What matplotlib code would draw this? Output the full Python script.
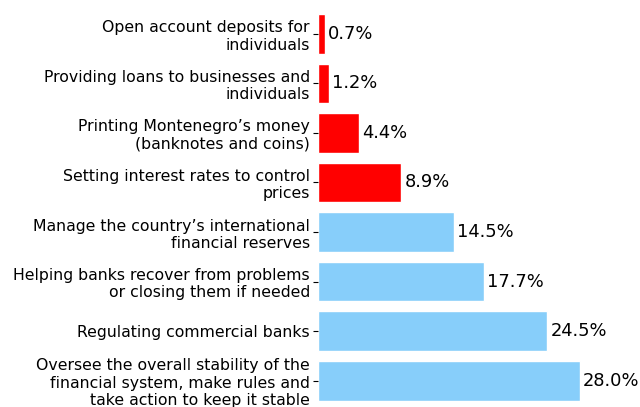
import matplotlib
matplotlib.use("Agg")
import matplotlib.pyplot as plt

categories = [
    "Oversee the overall stability of the\nfinancial system, make rules and\ntake action to keep it stable",
    "Regulating commercial banks",
    "Helping banks recover from problems\nor closing them if needed",
    "Manage the country\u2019s international\nfinancial reserves",
    "Setting interest rates to control\nprices",
    "Printing Montenegro\u2019s money\n(banknotes and coins)",
    "Providing loans to businesses and\nindividuals",
    "Open account deposits for\nindividuals",
]
values = [28.0, 24.5, 17.7, 14.5, 8.9, 4.4, 1.2, 0.7]
colors = ["#87CEFA"] * 4 + ["#FF0000"] * 4

fig = plt.figure(figsize=(6.4, 4.07), dpi=100)
ax = fig.add_axes([318 / 640, 6.5 / 407, 275 / 640, 386.5 / 407])
y = list(range(len(categories)))
ax.barh(y, values, height=0.8, color=colors, edgecolor="white", linewidth=1)
for yi, v in zip(y, values):
    ax.text(v + 0.35, yi, f"{v:.1f}%", va="center", ha="left", fontsize=12.9)
ax.set_yticks(y)
ax.set_yticklabels(categories, fontsize=11.3)
ax.tick_params(axis="y", pad=2.3)
ax.set_xlim(0, 29.4)
ax.set_ylim(-0.4, 7.4)
ax.set_xticks([])
for s in ax.spines.values():
    s.set_visible(False)
fig.savefig("out.png", dpi=100)
